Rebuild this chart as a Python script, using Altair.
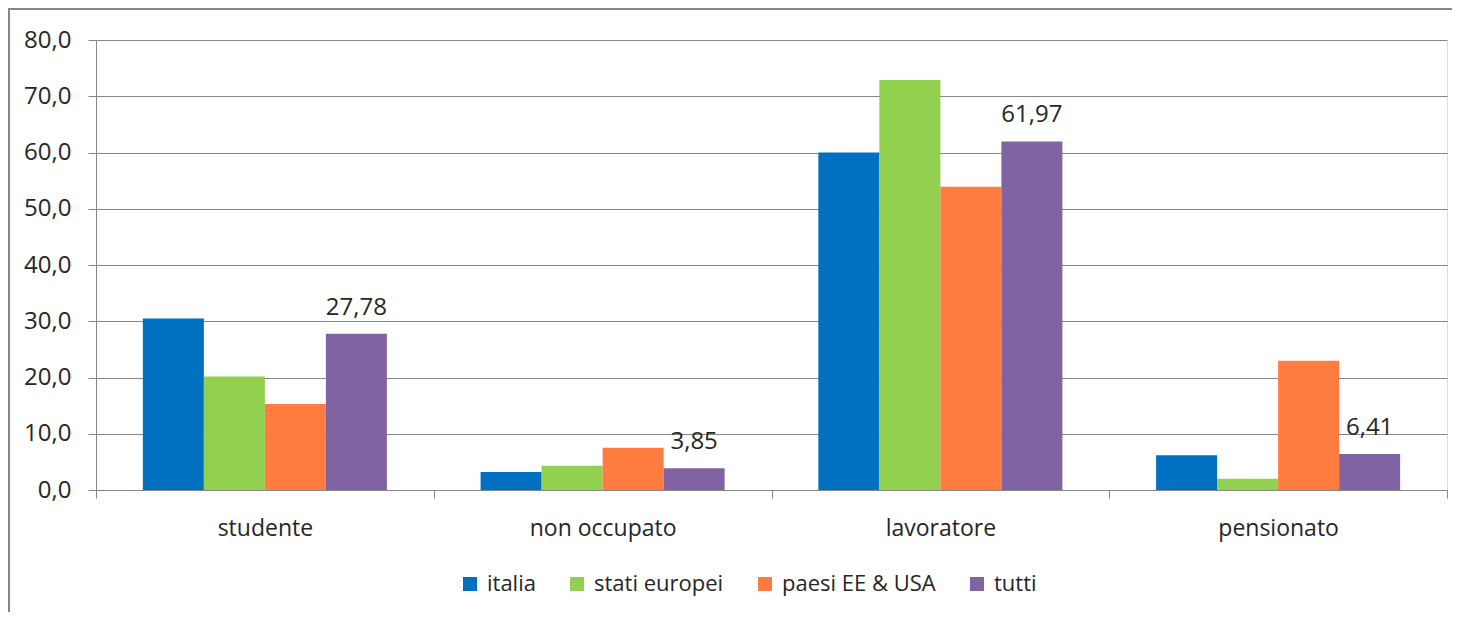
import altair as alt
import pandas as pd

categories = ["studente", "non occupato", "lavoratore", "pensionato"]
series = ["italia", "stati europei", "paesi EE & USA", "tutti"]
italia = [30.5, 3.2, 60.0, 6.2]
stati_europei = [20.2, 4.3, 72.9, 2.0]
paesi_ee_usa = [15.3, 7.5, 53.9, 23.0]
tutti = [27.78, 3.85, 61.97, 6.41]
colors = ["#0070C0", "#92D050", "#FF7C40", "#8064A2"]
y_ticks = [0, 10, 20, 30, 40, 50, 60, 70, 80]

rows = []
for s, vals in zip(series, [italia, stati_europei, paesi_ee_usa, tutti]):
    for c, v in zip(categories, vals):
        rows.append({"categoria": c, "serie": s, "valore": v})
df = pd.DataFrame(rows)

FONT = "Open Sans"
GREY = "#878787"
TEXT = "#262626"

x_enc = alt.X(
    "categoria:N",
    sort=categories,
    scale=alt.Scale(paddingInner=0, paddingOuter=0),
    axis=alt.Axis(
        title=None, labelAngle=0, tickBand="extent", tickSize=8, tickColor=GREY,
        domainColor=GREY, labelFontSize=23, labelFont=FONT, labelColor=TEXT,
        labelPadding=19, grid=False,
    ),
)
xoff = alt.XOffset(
    "serie:N", sort=series,
    scale=alt.Scale(domain=series, paddingInner=0, paddingOuter=0.768),
)
y_enc = alt.Y(
    "valore:Q",
    scale=alt.Scale(domain=[0, 80], nice=False),
    axis=alt.Axis(
        title=None, values=y_ticks, grid=True, gridColor=GREY, domainColor=GREY,
        tickColor=GREY, tickSize=8, labelPadding=17, labelFontSize=24, labelFont=FONT,
        labelColor=TEXT, labelExpr="replace(format(datum.value, '.1f'), '.', ',')",
    ),
)

bars = alt.Chart(df).mark_bar().encode(
    x=x_enc,
    xOffset=xoff,
    y=y_enc,
    color=alt.Color(
        "serie:N",
        sort=series,
        scale=alt.Scale(domain=series, range=colors),
        legend=alt.Legend(
            title=None, orient="none", legendX=363, legendY=533, direction="horizontal",
            symbolType="square", symbolSize=196, symbolStrokeWidth=0,
            labelFontSize=22, labelFont=FONT, labelColor=TEXT, labelOffset=6,
            columnPadding=30,
        ),
    ),
)

labels = alt.Chart(df).transform_filter(
    alt.datum.serie == "tutti"
).transform_calculate(
    lab="replace(format(datum.valore, '.2f'), '.', ',')"
).mark_text(baseline="bottom", dy=-14, fontSize=24, font=FONT, color=TEXT).encode(
    x=alt.X("categoria:N", sort=categories),
    xOffset=alt.XOffset("serie:N", sort=series),
    y="valore:Q",
    text="lab:N",
)

frame_df = pd.DataFrame({"k": [0]})
top_line = alt.Chart(frame_df).mark_rule(color=GREY, strokeWidth=2).encode(
    x=alt.value(-88), x2=alt.value(1400), y=alt.value(-31)
)
left_line = alt.Chart(frame_df).mark_rule(color=GREY, strokeWidth=2).encode(
    x=alt.value(-87), y=alt.value(-31), y2=alt.value(640)
)

chart = alt.layer(bars, labels, top_line, left_line).properties(
    width=1351, height=450,
    autosize=alt.AutoSizeParams(type="none"),
    padding={"left": 88, "top": 32, "right": 5, "bottom": 122},
).configure_view(stroke=None).configure(background="white")

chart.save("out.html", embed_options={"renderer": "svg", "actions": False})
